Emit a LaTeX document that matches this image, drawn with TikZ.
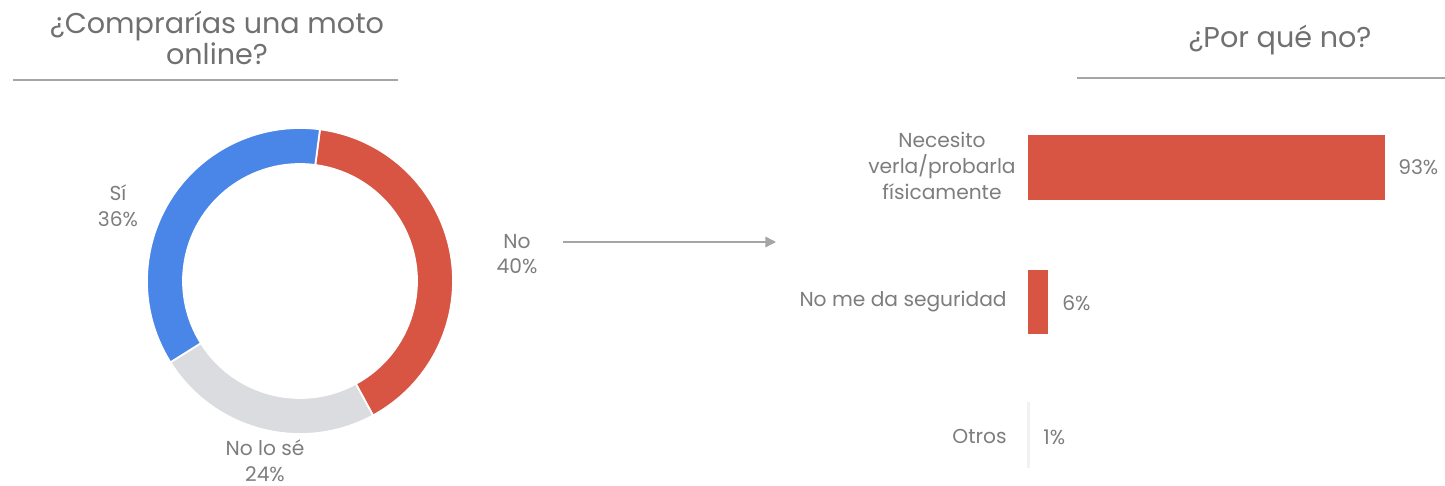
\documentclass[tikz,border=0pt]{standalone}
\usepackage{fontspec}
\setmainfont{Poppins}
\usepackage{tikz}
\usetikzlibrary{arrows.meta,positioning,calc}
\definecolor{txtGray}{RGB}{125,125,125}
\definecolor{ruleGray}{RGB}{165,165,165}
\definecolor{pieRed}{RGB}{216,85,68}
\definecolor{pieBlue}{RGB}{74,134,232}
\definecolor{pieLight}{RGB}{218,220,224}
\tikzstyle{title}=[text=txtGray!90!black, font=\fontsize{16.3}{17.6}\selectfont, align=center, inner sep=0pt]
\tikzstyle{lab}=[text=txtGray, font=\fontsize{11.5}{14.7}\selectfont, align=center, inner sep=0pt]
\tikzstyle{hrule}=[draw=ruleGray, line width=0.8pt]
\tikzstyle{barRed}=[fill=pieRed]
\newcommand{\donutSeg}[3]{
	\filldraw[fill=#3, draw=white, line width=1pt] (#1:153) arc[start angle=#1, end angle=#2, radius=153] -- (#2:117) arc[start angle=#2, end angle=#1, radius=117] -- cycle;
}
\begin{document}
\begin{tikzpicture}[x=0.02cm, y=-0.02cm]
	\useasboundingbox (0,0) rectangle (1445,486);
	\node[title] (qLeft) at (217,38) {¿Comprarías una moto\\online?};
	\coordinate (ruleLa) at (13,80);
	\coordinate (ruleLb) at (398,80);
	\draw[hrule] (ruleLa) -- (ruleLb);
	\node[title] (qRight) at (1280,40) {¿Por qué no?};
	\coordinate (ruleRa) at (1077,78);
	\coordinate (ruleRb) at (1445,78);
	\draw[hrule] (ruleRa) -- (ruleRb);
	\begin{scope}[shift={(300,281)}, yscale=-1]
		\foreach \a/\b/\c in {82.5/-61.5/pieRed, -61.5/-147.9/pieLight, -147.9/-277.5/pieBlue}{
			\donutSeg{\a}{\b}{\c}
		}
	\end{scope}
	\node[lab] (siLab) at (118,206) {Sí\\36\%};
	\node[lab] (noLab) at (517,254) {No\\40\%};
	\node[lab] (nsLab) at (265,461) {No lo sé\\24\%};
	\coordinate (arrA) at (563,242);
	\coordinate (arrB) at (776,242);
	\draw[ruleGray, line width=0.8pt, -{Triangle[length=6pt, width=6pt]}] (arrA) -- (arrB);
	\fill[barRed] (1028,135) rectangle (1385,200);
	\fill[barRed] (1028,270) rectangle (1048,334);
	\fill[black!5] (1027,402) rectangle (1030,468);
	\node[lab] (r1Lab) at (942,166) {Necesito\\verla/probarla\\físicamente};
	\node[lab, anchor=east] (r2Lab) at (1007,302) {No me da seguridad};
	\node[lab, anchor=east] (r3Lab) at (1007,436) {Otros};
	\node[lab, anchor=west] (r1Val) at (1398,167) {93\%};
	\node[lab, anchor=west] (r2Val) at (1062,303) {6\%};
	\node[lab, anchor=west] (r3Val) at (1043,437) {1\%};
\end{tikzpicture}
\end{document}
